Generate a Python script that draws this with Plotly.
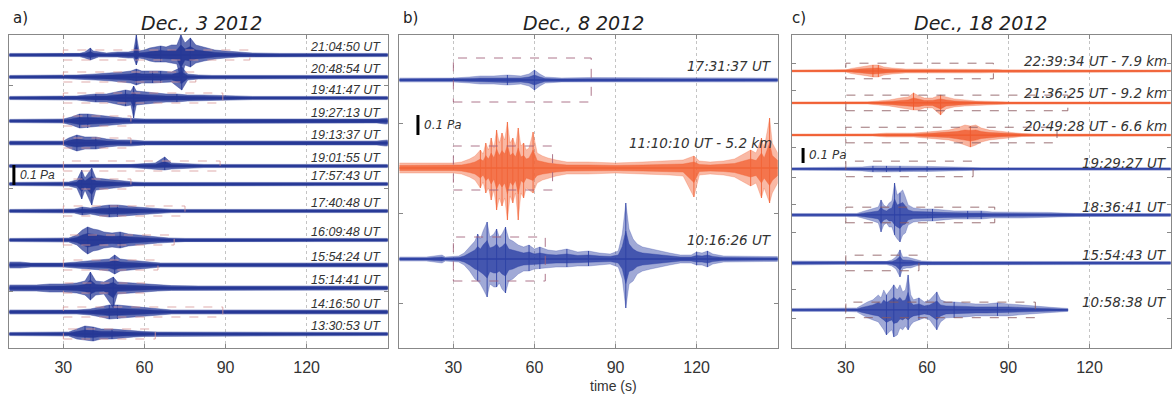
import plotly.graph_objects as go

# ---------------- DATA ----------------
# time axis (s) shared by all panels
x_ticks = [30, 60, 90, 120]
x_range = [10, 150]
panel_titles = ["Dec., 3 2012", "Dec., 8 2012", "Dec., 18 2012"]
panel_letters = ["a)", "b)", "c)"]

# Envelope nodes of every waveform: (time s, upper amplitude mPa, lower amplitude mPa)
# ---- panel a (Dec. 3) ----
A1 = [(10, 8, 8), (36, 8, 8), (38, 15, 15), (40, 35, 25), (41, 20, 20), (43, 15, 10), (46, 10, 10), (50, 15, 10),
      (54, 15, 15), (56, 20, 15), (57, 100, 50), (58, 20, 15), (60, 25, 20), (62, 35, 30), (64, 40, 35), (66, 45, 35),
      (68, 40, 35), (70, 50, 40), (72, 50, 45), (73.5, 100, 125), (75, 60, 50), (77, 85, 60), (79, 50, 40),
      (82, 40, 30), (86, 25, 20), (90, 20, 15), (95, 15, 10), (100, 10, 10), (110, 8, 8), (150, 8, 8)]
A2 = [(10, 8, 8), (30, 8, 8), (35, 10, 10), (42, 15, 15), (48, 20, 20), (52, 25, 25), (55, 30, 30), (57, 40, 40),
      (59, 30, 30), (63, 30, 30), (66, 30, 30), (70, 25, 25), (73.8, 50, 65), (76, 15, 15), (80, 10, 10),
      (85, 8, 8), (150, 8, 8)]
A3 = [(10, 8, 8), (35, 10, 10), (38, 15, 15), (42, 20, 20), (46, 20, 20), (50, 30, 30), (53, 40, 40), (55, 35, 35),
      (56, 60, 100), (57, 35, 35), (60, 30, 30), (64, 25, 25), (68, 20, 20), (72, 20, 20), (76, 15, 15),
      (82, 15, 15), (88, 12, 12), (93, 10, 10), (100, 8, 8), (150, 8, 8)]
A4 = [(10, 8, 8), (30, 10, 10), (33, 20, 20), (36, 35, 35), (39, 35, 35), (42, 30, 30), (45, 25, 25), (48, 20, 20),
      (52, 15, 15), (56, 12, 12), (60, 10, 10), (146, 10, 10), (149, 15, 15), (150, 15, 15)]
A5 = [(10, 10, 10), (30, 10, 10), (32, 25, 25), (35, 40, 40), (38, 30, 30), (42, 30, 30), (46, 20, 20),
      (50, 15, 15), (55, 15, 15), (60, 10, 10), (146, 10, 10), (149, 15, 15), (150, 15, 15)]
A6 = [(10, 8, 8), (55, 8, 8), (60, 12, 12), (64, 15, 15), (67.5, 45, 20), (70, 15, 15), (74, 12, 12), (78, 10, 10),
      (82, 8, 8), (150, 8, 8)]
A7 = [(10, 8, 8), (32, 10, 10), (35, 20, 20), (36.8, 70, 75), (38, 30, 30), (40.5, 80, 105), (42, 30, 30),
      (45, 25, 25), (48, 20, 20), (52, 15, 15), (56, 10, 10), (60, 8, 8), (150, 8, 8)]
A8 = [(10, 8, 8), (34, 10, 10), (37, 20, 20), (40, 15, 15), (44, 25, 25), (47, 30, 30), (50, 30, 30), (53, 25, 25),
      (57, 20, 20), (62, 15, 15), (66, 10, 10), (70, 8, 8), (150, 8, 8)]
A9 = [(10, 8, 8), (32, 10, 10), (35, 25, 25), (37, 50, 50), (39, 65, 70), (41, 55, 55), (43, 50, 50), (45, 40, 40),
      (48, 35, 35), (51, 40, 40), (54, 30, 30), (57, 25, 25), (61, 20, 20), (65, 15, 15), (69, 10, 10),
      (75, 8, 8), (150, 8, 8)]
A10 = [(10, 15, 15), (14, 15, 15), (18, 10, 10), (30, 10, 10), (35, 15, 15), (40, 20, 20), (44, 25, 25),
       (47, 30, 30), (49, 50, 45), (51, 30, 30), (54, 25, 25), (58, 20, 20), (62, 15, 15), (66, 10, 10),
       (150, 10, 10)]
A11 = [(10, 15, 15), (15, 15, 15), (20, 15, 15), (25, 20, 20), (30, 20, 20), (35, 25, 25), (38, 35, 35),
       (40, 80, 60), (42, 35, 35), (45, 30, 30), (48.5, 55, 100), (50, 30, 30), (55, 25, 25), (60, 20, 20),
       (65, 15, 15), (70, 12, 12), (80, 10, 10), (150, 10, 10)]
A12 = [(10, 10, 10), (35, 10, 10), (40, 15, 15), (44, 25, 25), (47, 35, 35), (50, 35, 35), (54, 30, 30),
       (58, 25, 25), (62, 20, 20), (66, 15, 15), (70, 10, 10), (150, 10, 10)]
A13 = [(10, 8, 8), (32, 10, 10), (35, 25, 25), (38, 40, 30), (41, 35, 35), (44, 25, 25), (48, 25, 25),
       (52, 20, 20), (56, 15, 15), (60, 12, 12), (65, 10, 10), (150, 8, 8)]

labels_a = ["21:04:50 UT", "20:48:54 UT", "19:41:47 UT", "19:27:13 UT", "19:13:37 UT", "19:01:55 UT",
            "17:57:43 UT", "17:40:48 UT", "16:09:48 UT", "15:54:24 UT", "15:14:41 UT", "14:16:50 UT",
            "13:30:53 UT"]
offsets_a = [0.100, 0.210, 0.315, 0.430, 0.540, 0.655, 0.745, 0.880, 1.025, 1.150, 1.265, 1.385, 1.495]  # Pa
box_end_a = [99, 79, 89, 55, 55, 88, 55, 75, 71, 65, 60, 89, 64]  # s
box_half_a = 0.025  # Pa

# ---- panel b (Dec. 8) ----
B1 = [(10, 10, 10), (30, 10, 10), (36, 15, 15), (40, 20, 20), (45, 20, 20), (50, 25, 25), (55, 20, 20),
      (58, 30, 30), (60, 50, 50), (62, 30, 30), (64, 15, 15), (70, 10, 10), (80, 12, 12), (150, 10, 10)]
B2 = [(10, 25, 25), (20, 25, 25), (30, 25, 25), (33, 30, 30), (36, 45, 45), (38, 60, 60), (40, 90, 100),
      (41, 70, 70), (42, 125, 125), (43, 90, 100), (44, 150, 160), (45, 100, 110), (46, 190, 210),
      (47, 125, 150), (48, 175, 190), (49, 140, 150), (50, 230, 260), (51, 125, 140), (52, 150, 175),
      (53, 110, 125), (54, 200, 260), (55, 110, 125), (56, 125, 150), (57, 90, 100), (58, 100, 110),
      (59.5, 180, 125), (61, 75, 75), (63, 60, 60), (65, 50, 50), (68, 40, 40), (72, 30, 30), (80, 30, 30),
      (90, 25, 25), (100, 30, 30), (110, 35, 35), (115, 40, 40), (119, 60, 145), (121, 35, 35), (125, 30, 30),
      (130, 35, 35), (134, 45, 45), (136, 60, 60), (138, 75, 75), (140, 90, 90), (142, 75, 75),
      (144, 150, 150), (145, 100, 100), (147, 250, 175), (148, 125, 125), (150, 75, 75)]
B3 = [(10, 10, 10), (20, 10, 10), (25.8, 20, 20), (27, 10, 10), (32, 15, 15), (34, 30, 30), (36, 60, 60),
      (38, 90, 100), (39, 125, 110), (40, 100, 125), (41, 140, 150), (42.5, 185, 190), (43.5, 110, 125),
      (45, 125, 140), (46, 150, 140), (47, 110, 120), (48, 125, 150), (49.3, 160, 170), (50.5, 100, 110),
      (52, 90, 100), (54, 70, 75), (56, 60, 60), (58, 70, 60), (60, 50, 50), (62, 60, 50), (65, 45, 45),
      (68, 40, 40), (72, 50, 40), (76, 35, 35), (80, 40, 35), (84, 30, 30), (88, 25, 25), (91, 40, 40),
      (92.5, 125, 100), (93.8, 280, 245), (95, 150, 125), (96.5, 100, 110), (98, 75, 75), (100, 60, 60),
      (103, 50, 50), (106, 40, 40), (110, 30, 30), (114, 20, 20), (118, 20, 20), (120, 35, 30), (122, 30, 30),
      (124, 40, 40), (126, 25, 25), (130, 15, 15), (150, 12, 12)]

labels_b = ["17:31:37 UT", "11:10:10 UT - 5.2 km", "10:16:26 UT"]
offsets_b = [0.225, 0.665, 1.120]  # Pa
box_end_b = [81, 66.7, 64]
box_half_b = 0.110

# ---- panel c (Dec. 18) ----
C1 = [(10, 7, 7), (30, 7, 7), (32, 17, 17), (35, 27, 27), (38, 33, 33), (40, 40, 40), (42, 40, 40), (44, 27, 27),
      (47, 20, 20), (52, 13, 13), (60, 13, 13), (70, 13, 13), (80, 13, 13), (86, 10, 10), (88, 7, 7), (150, 7, 7)]
C2 = [(10, 7, 7), (38, 7, 7), (42, 13, 13), (46, 20, 20), (50, 33, 33), (53, 40, 40), (55, 67, 47), (57, 47, 47),
      (59, 33, 33), (62, 33, 33), (65, 53, 80), (67, 40, 40), (70, 27, 27), (74, 20, 20), (78, 13, 13),
      (85, 10, 10), (90, 7, 7), (150, 7, 7)]
C3 = [(10, 7, 7), (40, 7, 7), (45, 13, 13), (55, 13, 13), (60, 20, 20), (64, 27, 27), (68, 33, 33), (71, 47, 47),
      (74, 67, 67), (76, 60, 80), (78, 67, 67), (80, 47, 47), (83, 33, 33), (86, 27, 27), (90, 20, 20),
      (95, 10, 10), (100, 7, 7), (150, 7, 7)]
C4 = [(10, 8, 8), (30, 10, 10), (36, 13, 13), (40, 20, 20), (45, 20, 20), (50, 20, 20), (55, 17, 17),
      (60, 17, 17), (70, 13, 13), (77, 10, 10), (80, 8, 8), (150, 8, 8)]
C5 = [(10, 10, 10), (34, 10, 10), (37, 27, 27), (40, 40, 40), (42, 53, 53), (43, 100, 113), (44, 67, 67),
      (45, 53, 53), (46, 80, 80), (47, 93, 80), (48, 213, 133), (49, 133, 160), (50, 147, 180), (51, 167, 133),
      (52, 120, 120), (53, 67, 67), (55, 47, 47), (58, 40, 40), (62, 40, 40), (66, 33, 33), (70, 27, 27),
      (75, 27, 27), (80, 27, 27), (84, 20, 20), (90, 20, 20), (95, 20, 20), (100, 17, 17), (105, 17, 17),
      (110, 13, 13), (115, 10, 10), (150, 10, 10)]
C6 = [(10, 13, 13), (20, 13, 13), (28, 10, 10), (45, 10, 10), (47, 20, 20), (48.5, 40, 40), (50, 87, 93),
      (51, 40, 40), (52.5, 40, 33), (54, 33, 33), (56, 20, 20), (58, 13, 13), (62, 10, 10), (150, 10, 10)]
C7 = [(10, 10, 10), (30, 10, 10), (34, 13, 13), (36, 33, 33), (38, 53, 53), (40, 67, 67), (42, 100, 80),
      (43, 80, 107), (44, 133, 133), (45, 100, 167), (46, 120, 147), (47, 147, 133), (47.7, 167, 180),
      (49, 133, 167), (50, 167, 120), (51, 120, 133), (52, 133, 107), (53, 233, 133), (54, 100, 100),
      (55, 67, 80), (57, 80, 67), (59, 53, 53), (61, 67, 67), (63.6, 120, 133), (65, 67, 80), (67, 53, 53),
      (70, 53, 53), (74, 47, 47), (78, 40, 40), (82, 40, 40), (86, 47, 40), (90, 40, 40), (94, 33, 33),
      (98, 27, 27), (102, 20, 20), (106, 17, 17), (112, 10, 10)]

labels_c = ["22:39:34 UT - 7.9 km", "21:36:25 UT - 9.2 km", "20:49:28 UT - 6.6 km", "19:29:27 UT",
            "18:36:41 UT", "15:54:43 UT", "10:58:38 UT"]
offsets_c = [0.240, 0.453, 0.667, 0.893, 1.200, 1.520, 1.833]  # Pa
box_end_c = [84.5, 112, 108, 77, 85, 57, 100]
box_half_c = 0.052

scale_bar_pa = 0.1

# ---------------- STYLE ----------------
W, H = 1174, 394
M_T, M_B = 35, 46
plot_h = H - M_T - M_B
dom_x = [[9.3 / W, 387.7 / W], [399.3 / W, 777.7 / W], [791.7 / W, 1170.7 / W]]
y_span = [1.565, 1.565, 2.087]          # Pa shown in each panel height
NAVY = (38, 56, 150)
BLUE = (45, 65, 165)
ORANGE = (242, 100, 55)
RED = (240, 90, 45)

def rgba(c, a):
    return f"rgba({c[0]},{c[1]},{c[2]},{a})"

fig = go.Figure()

def axn(ax):
    return ("x", "y") if ax == 1 else (f"x{ax}", f"y{ax}")

def draw_wave(nodes, off, col, ax, outer_a, inner_a, base_w, spike_a, spike_w):
    xa, ya = axn(ax)
    t = [n[0] for n in nodes]
    up = [-off + n[1] / 1000 for n in nodes]
    dn = [-off - n[2] / 1000 for n in nodes]
    fig.add_trace(go.Scatter(x=t + t[::-1], y=up + dn[::-1], fill="toself", mode="lines",
                             line=dict(width=0.6, color=rgba(col, outer_a)),
                             fillcolor=rgba(col, outer_a), xaxis=xa, yaxis=ya,
                             hoverinfo="skip", showlegend=False))
    upi = [-off + n[1] / 2000 for n in nodes]
    dni = [-off - n[2] / 2000 for n in nodes]
    fig.add_trace(go.Scatter(x=t + t[::-1], y=upi + dni[::-1], fill="toself", mode="lines",
                             line=dict(width=0.5, color=rgba(col, inner_a)),
                             fillcolor=rgba(col, inner_a), xaxis=xa, yaxis=ya,
                             hoverinfo="skip", showlegend=False))
    # min/max sticks at the envelope peaks (waveform look)
    amp = [n[1] + n[2] for n in nodes]
    floor = min(amp)
    sx, sy = [], []
    for i in range(len(nodes)):
        left = amp[i - 1] if i > 0 else 0
        right = amp[i + 1] if i < len(nodes) - 1 else 0
        if amp[i] >= left and amp[i] >= right and amp[i] > 2 * floor:
            sx += [t[i], t[i], None]
            sy += [dn[i], up[i], None]
    if sx:
        fig.add_trace(go.Scatter(x=sx, y=sy, mode="lines", line=dict(width=spike_w, color=rgba(col, spike_a)),
                                 xaxis=xa, yaxis=ya, hoverinfo="skip", showlegend=False, connectgaps=False))
    fig.add_trace(go.Scatter(x=[t[0], t[-1]], y=[-off, -off], mode="lines",
                             line=dict(width=base_w, color=rgba(col, 1)), xaxis=xa, yaxis=ya,
                             hoverinfo="skip", showlegend=False))

def draw_box(t_end, off, half, ax, color):
    xa, ya = axn(ax)
    fig.add_shape(type="rect", xref=xa, yref=ya, x0=30, x1=t_end, y0=-off - half, y1=-off + half,
                  line=dict(color=color, width=1, dash="dash"), layer="above")

def label(ax, x, y, text, yshift, fam, size):
    xa, ya = axn(ax)
    fig.add_annotation(x=x, y=y, xref=xa, yref=ya, text=text, showarrow=False, xanchor="right",
                       yanchor="middle", yshift=yshift,
                       font=dict(family=fam, size=size, color="#333333", style="italic"))

# panel a
waves_a = [A1, A2, A3, A4, A5, A6, A7, A8, A9, A10, A11, A12, A13]
for w, off, te, lab in zip(waves_a, offsets_a, box_end_a, labels_a):
    draw_box(te, off, box_half_a, 1, "rgba(215,150,150,0.8)")
    draw_wave(w, off, NAVY, 1, 0.72, 0.95, 1.6, 0.9, 1.0)
    label(1, 148.3, -off, lab, 8, "Liberation Sans", 12.5)

# panel b
waves_b = [B1, B2, B3]
cols_b = [BLUE, ORANGE, BLUE]
yshift_b = [14, 25, 19]
for w, off, te, lab, c, ys in zip(waves_b, offsets_b, box_end_b, labels_b, cols_b, yshift_b):
    draw_box(te, off, box_half_b, 2, "rgba(160,95,120,0.85)")
    draw_wave(w, off, c, 2, 0.45, 0.8, 1.4, 0.9, 1.0)
    label(2, 148.5, -off, lab, ys, "DejaVu Sans", 13.5)

# panel c
waves_c = [C1, C2, C3, C4, C5, C6, C7]
cols_c = [RED, RED, RED, BLUE, BLUE, BLUE, BLUE]
yshift_c = [10, 10, 9, 6, 8, 8, 8]
for w, off, te, lab, c, ys in zip(waves_c, offsets_c, box_end_c, labels_c, cols_c, yshift_c):
    draw_box(te, off, box_half_c, 3, "rgba(140,90,95,0.85)")
    draw_wave(w, off, c, 3, 0.45, 0.8, 1.2, 0.9, 1.0)
    label(3, 149.5, -off, lab, ys, "DejaVu Sans", 13.5)

# scale bars (0.1 Pa)
bars = [(1, 11.7, 0.65, "Liberation Sans"), (2, 16.9, 0.40, "DejaVu Sans"), (3, 14.2, 0.753, "DejaVu Sans")]
for ax, bx, btop, fam in bars:
    xa, ya = axn(ax)
    fig.add_trace(go.Scatter(x=[bx, bx], y=[-btop, -btop - scale_bar_pa], mode="lines",
                             line=dict(width=3, color="black"), xaxis=xa, yaxis=ya,
                             hoverinfo="skip", showlegend=False))
    fig.add_annotation(x=bx, y=-btop - scale_bar_pa / 2, xref=xa, yref=ya, text="0.1 Pa",
                       showarrow=False, xanchor="left", yanchor="middle", xshift=4,
                       font=dict(family=fam, size=12, color="#333333", style="italic"))

# y tick positions (Pa, from top)
yticks = [[0.25, 0.765, 1.28], [0.44, 0.89, 1.34], [0.187, 0.373, 0.747, 0.947, 1.127, 1.32, 1.70, 1.887]]

layout = dict(width=W, height=H, margin=dict(l=0, r=0, t=M_T, b=M_B),
              plot_bgcolor="white", paper_bgcolor="white", showlegend=False)
for i in range(3):
    sfx = "" if i == 0 else str(i + 1)
    layout["xaxis" + sfx] = dict(domain=dom_x[i], range=x_range, tickvals=x_ticks, ticks="inside", ticklen=4,
                                 tickcolor="#888", showline=True, linecolor="#888", linewidth=1,
                                 mirror="ticks", showgrid=True, gridcolor="#c4c4c4", griddash="dot",
                                 gridwidth=1, zeroline=False, anchor="y" + sfx,
                                 tickfont=dict(family="Liberation Sans", size=16, color="#333"),
                                 ticklabelstandoff=5)
    layout["yaxis" + sfx] = dict(domain=[0, 1], range=[-y_span[i], 0], tickvals=[-v for v in yticks[i]],
                                 ticks="inside", ticklen=4, tickcolor="#888", showticklabels=False,
                                 showline=True, linecolor="#888", linewidth=1, mirror="ticks",
                                 showgrid=False, zeroline=False, anchor="x" + sfx)
fig.update_layout(**layout)

def py(ypx):
    return (H - M_B - ypx) / plot_h

title_x = [201.5, 583, 980]
letter_x = [20, 410, 799]
for i in range(3):
    fig.add_annotation(x=title_x[i] / W, y=py(23.5), xref="paper", yref="paper", text=panel_titles[i],
                       showarrow=False, xanchor="center", yanchor="middle",
                       font=dict(family="DejaVu Sans", size=19, color="#222", style="italic"))
    fig.add_annotation(x=letter_x[i] / W, y=py(18), xref="paper", yref="paper", text=panel_letters[i],
                       showarrow=False, xanchor="center", yanchor="middle",
                       font=dict(family="DejaVu Sans", size=15, color="#222"))
fig.add_annotation(x=613 / W, y=py(385.5), xref="paper", yref="paper", text="time (s)", showarrow=False,
                   xanchor="center", yanchor="middle",
                   font=dict(family="Liberation Sans", size=14, color="#333"))

fig.write_html("out.html", config={"displayModeBar": False},
               post_script="document.body.style.margin='0px';document.body.style.overflow='hidden';")
